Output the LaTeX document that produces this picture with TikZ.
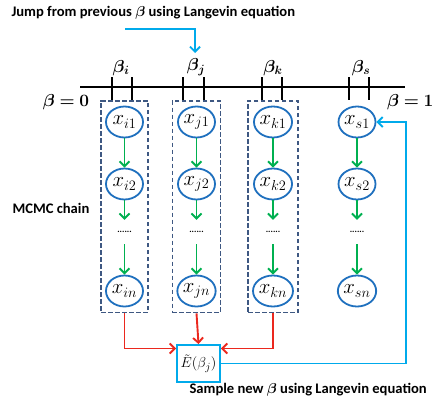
\documentclass[tikz,border=0pt]{standalone}
\usepackage{amsmath,bm}
\usepackage{fontspec}
\setmainfont{Carlito}
\usetikzlibrary{positioning}
\usetikzlibrary{fit}
\usetikzlibrary{shapes.geometric}
\usetikzlibrary{arrows.meta}
\definecolor{nodeblue}{RGB}{31,112,190}
\definecolor{boxgray}{RGB}{62,88,130}
\definecolor{chaingreen}{RGB}{0,176,80}
\definecolor{linkred}{RGB}{235,40,30}
\definecolor{skyblue}{RGB}{0,170,235}

\begin{document}
\begin{tikzpicture}[x=1pt,y=-1pt,
	state/.style={ellipse,draw=nodeblue,line width=1.8pt,minimum width=37pt,minimum height=31pt,inner sep=0pt,font=\fontsize{22}{24}\selectfont},
	dotsnode/.style={minimum height=24pt,inner sep=0pt,font=\fontsize{9}{10}\selectfont\bfseries},
	chainbox/.style={draw=boxgray,line width=1.8pt,dash pattern=on 4.5pt off 2.5pt,inner xsep=4pt,inner ysep=5pt},
	ebox/.style={draw=skyblue,line width=1.9pt,minimum width=43pt,minimum height=37pt,inner sep=0pt,font=\fontsize{15}{17}\selectfont},
	betalabel/.style={font=\fontsize{18}{20}\selectfont},
	caption/.style={anchor=west,font=\fontsize{14.6}{17}\selectfont\bfseries},
	chain/.style={draw=chaingreen,line width=1.9pt,-{Straight Barb[length=5pt,width=10pt]}},
	feed/.style={draw=linkred,line width=1.9pt,-{Straight Barb[length=5pt,width=10pt]}},
	jump/.style={draw=skyblue,line width=1.9pt,-{Straight Barb[length=5pt,width=10pt]}}]
	\useasboundingbox (0,0) rectangle (438,397);
	% texts
	\node[caption] (title) at (8,13) {Jump from previous $\bm{\beta}$ using Langevin equation};
	\node[caption] (sample) at (186,390) {Sample new $\bm{\beta}$ using Langevin equation};
	\node[caption] (mcmc) at (9,208) {MCMC chain};
	% beta axis
	\draw[line width=2.2pt] (80,87) -- (405,87);
	\foreach \tx in {112,132,183,204,262,282,349,369}
		\draw[line width=1.6pt] (\tx,77) -- (\tx,100);
	\node[betalabel] (b0) at (66,102) {$\bm{\beta = 0}$};
	\node[betalabel,anchor=east] (b1) at (437,102) {$\bm{\beta = 1}$};
	\node[betalabel] (bi) at (121,68) {$\bm{\beta_i}$};
	\node[betalabel] (bj) at (196,67) {$\bm{\beta_j}$};
	\node[betalabel] (bk) at (273,68) {$\bm{\beta_k}$};
	\node[betalabel] (bs) at (361,68) {$\bm{\beta_s}$};
	% chains
	\foreach \c/\cx in {i/124.5,j/196.5,k/273,s/357} {
		\node[state] (\c1) at (\cx,122) {$x_{\c1}$};
		\node[state] (\c2) at (\cx,184) {$x_{\c2}$};
		\node[dotsnode] (\c d) at (\cx,232) {......};
		\node[state] (\c n) at (\cx,291) {$x_{\c n}$};
		\draw[chain] (\c1) -- (\c2);
		\draw[chain] (\c2) -- (\c d);
		\draw[chain] (\c d) -- (\c n);
	}
	\node[chainbox,fit=(i1)(in)] (ibox) {};
	\node[chainbox,fit=(j1)(jn)] (jbox) {};
	\node[chainbox,fit=(k1)(kn)] (kbox) {};
	% estimate
	\node[ebox] (E) at (198.5,363.5) {$\tilde{E}(\beta_j)$};
	\draw[feed] (ibox.south) |- ([yshift=15pt]E.west);
	\draw[feed] (jbox.south) -- (E.north);
	\draw[feed] (kbox.south) |- ([yshift=15pt]E.east);
	% langevin jumps
	\coordinate (jumpfrom) at (125,29);
	\coordinate (jumpto) at (195,53);
	\draw[jump] (jumpfrom) -| (jumpto);
	\coordinate (back) at (406,122);
	\draw[jump] (E.east) -| (back) -- (s1.east);
\end{tikzpicture}
\end{document}
